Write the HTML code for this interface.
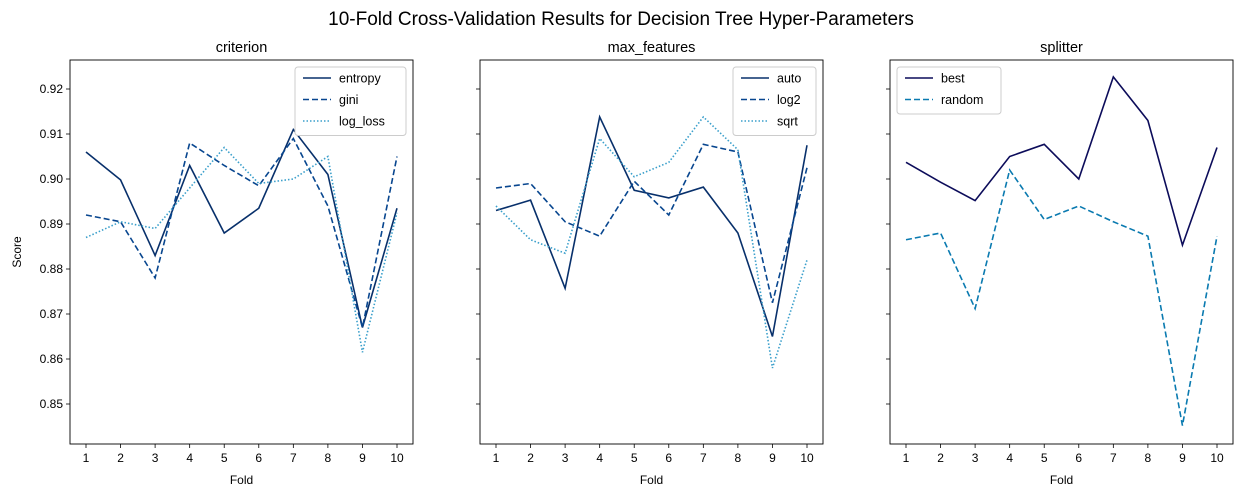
<!DOCTYPE html>
<html><head><meta charset="utf-8"><style>
body{margin:0;background:#fff;}
svg{display:block;font-family:"Liberation Sans","DejaVu Sans",sans-serif;}
</style></head><body>
<svg id="c" width="1242" height="498"></svg>
<script>
const folds=[1,2,3,4,5,6,7,8,9,10];
const yTicks=[0.85,0.86,0.87,0.88,0.89,0.90,0.91,0.92];
const yTickLabels=["0.85","0.86","0.87","0.88","0.89","0.90","0.91","0.92"];
const entropy=[0.906,0.8998,0.883,0.903,0.888,0.8935,0.911,0.901,0.867,0.8935];
const gini=[0.892,0.8905,0.878,0.908,0.903,0.8985,0.909,0.894,0.867,0.905];
const logLoss=[0.887,0.8905,0.889,0.898,0.907,0.899,0.900,0.905,0.8615,0.8925];
const auto=[0.893,0.8953,0.8757,0.9138,0.8975,0.8958,0.8982,0.888,0.865,0.9075];
const log2=[0.898,0.899,0.8905,0.8873,0.8995,0.892,0.9077,0.906,0.8725,0.9025];
const sqrt=[0.894,0.8865,0.8835,0.909,0.9005,0.9037,0.9138,0.9065,0.858,0.882];
const best=[0.9037,0.8993,0.8952,0.905,0.9077,0.900,0.9227,0.913,0.8853,0.907];
const random=[0.8865,0.888,0.8712,0.902,0.891,0.894,0.8905,0.8873,0.8452,0.8873];

const NS="http://www.w3.org/2000/svg";
const svg=document.getElementById('c');
function mk(t,a,p){const e=document.createElementNS(NS,t);for(const k in a)e.setAttribute(k,a[k]);(p||svg).appendChild(e);return e;}
const topY=60,botY=444;
function yS(v){return 404-(v-0.85)*4500;}
const panels=[
 {x0:70,title:"criterion",name:"criterion",legendLeft:false,series:[
  {n:"entropy",d:entropy,c:"#08306b",dash:""},
  {n:"gini",d:gini,c:"#08468f",dash:"6,3"},
  {n:"log_loss",d:logLoss,c:"#3a9fcb",dash:"1.5,2"}]},
 {x0:480,title:"max_features",name:"max-features",legendLeft:false,series:[
  {n:"auto",d:auto,c:"#08306b",dash:""},
  {n:"log2",d:log2,c:"#08468f",dash:"6,3"},
  {n:"sqrt",d:sqrt,c:"#3a9fcb",dash:"1.5,2"}]},
 {x0:890,title:"splitter",name:"splitter",legendLeft:true,series:[
  {n:"best",d:best,c:"#0c0c5a",dash:""},
  {n:"random",d:random,c:"#0a7ab0",dash:"6,3"}]}
];
const t=mk('text',{x:621,y:25,'text-anchor':'middle','font-size':19,fill:'#000'});
t.textContent="10-Fold Cross-Validation Results for Decision Tree Hyper-Parameters";


panels.forEach((p,pi)=>{
 const W=343;
 const g=mk('g',{});
 
 
 const xS=f=>p.x0+16+(f-1)*(W-32)/9;
 const tt=mk('text',{x:p.x0+W/2,y:topY-8,'text-anchor':'middle','font-size':14.5},g);tt.textContent=p.title;
 
 
 yTicks.forEach((v,i)=>{
  mk('line',{x1:p.x0-4,x2:p.x0,y1:yS(v),y2:yS(v),stroke:'#000','stroke-width':0.8},g);
  if(pi==0){const l=mk('text',{x:p.x0-7,y:yS(v)+4,'text-anchor':'end','font-size':12},g);l.textContent=yTickLabels[i];}
 });
 folds.forEach(f=>{
  mk('line',{x1:xS(f),x2:xS(f),y1:botY,y2:botY+4,stroke:'#000','stroke-width':0.8},g);
  const l=mk('text',{x:xS(f),y:botY+18,'text-anchor':'middle','font-size':12},g);l.textContent=f;
 });
 const xl=mk('text',{x:p.x0+W/2,y:botY+40,'text-anchor':'middle','font-size':12},g);xl.textContent="Fold";
 
 
 if(pi==0){const yl=mk('text',{x:0,y:0,'text-anchor':'middle','font-size':12,transform:`translate(21,${(topY+botY)/2}) rotate(-90)`},g);yl.textContent="Score";
  
  }
 p.series.forEach(s=>{
  const pl=mk('polyline',{points:s.d.map((v,i)=>xS(folds[i])+','+yS(v)).join(' '),fill:'none',stroke:s.c,'stroke-width':1.6,'stroke-dasharray':s.dash},g);
  
  
 });
 mk('rect',{x:p.x0,y:topY,width:W,height:botY-topY,fill:'none',stroke:'#000','stroke-width':0.9},g);
 const lw=p.series.length==3?(pi==0?111:83):104, lh=p.series.length*21.5+4;
 const lx=p.legendLeft?p.x0+7:p.x0+W-7-lw, ly=topY+7;
 const lg=mk('g',{},g);
 
 
 mk('rect',{x:lx,y:ly,width:lw,height:lh,rx:3,fill:'#fff',stroke:'#ccc','stroke-width':1},lg);
 p.series.forEach((s,i)=>{
  const yy=ly+11+i*21.5;
  mk('line',{x1:lx+8,x2:lx+36,y1:yy,y2:yy,stroke:s.c,'stroke-width':1.6,'stroke-dasharray':s.dash},lg);
  const l=mk('text',{x:lx+44,y:yy+4.5,'font-size':12.5},lg);l.textContent=s.n;
  
  
 });
});
</script>
</body></html>
